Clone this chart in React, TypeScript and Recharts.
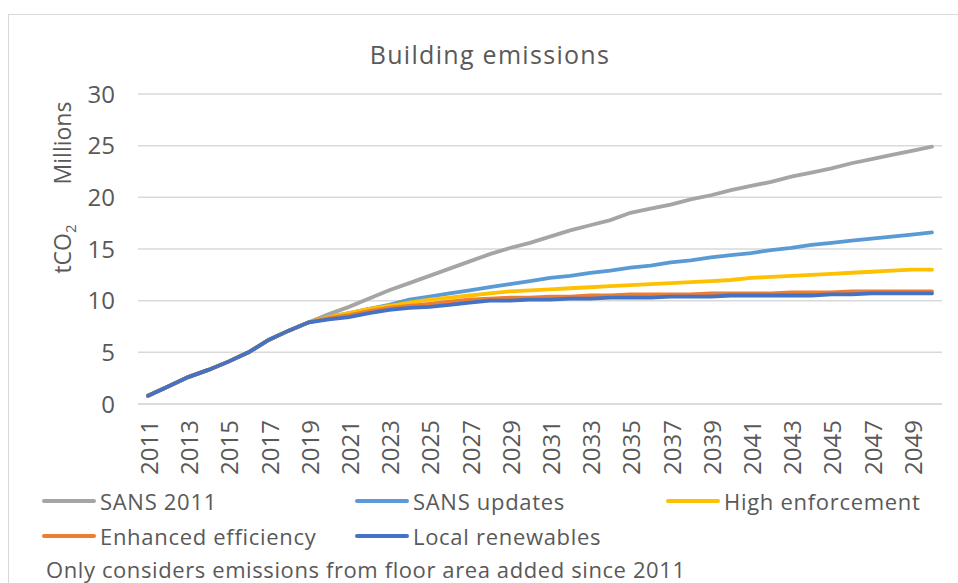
import { LineChart, Line, XAxis, YAxis, CartesianGrid } from 'recharts';

const YEARS = Array.from({ length: 40 }, (_, i) => String(2011 + i));

// 2011-2019 is the same for every scenario
const COMMON = [0.8, 1.7, 2.6, 3.3, 4.1, 5.0, 6.2, 7.1, 7.9];

const SANS_2011 = [
  ...COMMON,
  8.7, 9.4, 10.2, 11.0, 11.7, 12.4, 13.1, 13.8, 14.5, 15.1,
  15.6, 16.2, 16.8, 17.3, 17.8, 18.5, 18.9, 19.3, 19.8, 20.2,
  20.7, 21.1, 21.5, 22.0, 22.4, 22.8, 23.3, 23.7, 24.1, 24.5, 24.9,
];
const SANS_UPDATES = [
  ...COMMON,
  8.4, 8.8, 9.2, 9.6, 10.1, 10.4, 10.7, 11.0, 11.3, 11.6,
  11.9, 12.2, 12.4, 12.7, 12.9, 13.2, 13.4, 13.7, 13.9, 14.2,
  14.4, 14.6, 14.9, 15.1, 15.4, 15.6, 15.8, 16.0, 16.2, 16.4, 16.6,
];
const HIGH_ENFORCEMENT = [
  ...COMMON,
  8.4, 8.8, 9.2, 9.5, 9.8, 10.1, 10.3, 10.5, 10.7, 10.9,
  11.0, 11.1, 11.2, 11.3, 11.4, 11.5, 11.6, 11.7, 11.8, 11.9,
  12.0, 12.2, 12.3, 12.4, 12.5, 12.6, 12.7, 12.8, 12.9, 13.0, 13.0,
];
const ENHANCED_EFFICIENCY = [
  ...COMMON,
  8.3, 8.6, 9.0, 9.3, 9.5, 9.7, 9.9, 10.1, 10.2, 10.3,
  10.3, 10.4, 10.4, 10.5, 10.5, 10.6, 10.6, 10.6, 10.6, 10.7,
  10.7, 10.7, 10.7, 10.8, 10.8, 10.8, 10.9, 10.9, 10.9, 10.9, 10.9,
];
const LOCAL_RENEWABLES = [
  ...COMMON,
  8.2, 8.4, 8.8, 9.1, 9.3, 9.4, 9.6, 9.8, 10.0, 10.0,
  10.1, 10.1, 10.2, 10.2, 10.3, 10.3, 10.3, 10.4, 10.4, 10.4,
  10.5, 10.5, 10.5, 10.5, 10.5, 10.6, 10.6, 10.7, 10.7, 10.7, 10.7,
];

const Y_TICKS = [0, 5, 10, 15, 20, 25, 30];

const SERIES = [
  { key: 'sans2011', name: 'SANS 2011', color: '#A5A5A5', values: SANS_2011 },
  { key: 'sansUpdates', name: 'SANS updates', color: '#5B9BD5', values: SANS_UPDATES },
  { key: 'highEnforcement', name: 'High enforcement', color: '#FFC000', values: HIGH_ENFORCEMENT },
  { key: 'enhancedEfficiency', name: 'Enhanced efficiency', color: '#ED7D31', values: ENHANCED_EFFICIENCY },
  { key: 'localRenewables', name: 'Local renewables', color: '#4472C4', values: LOCAL_RENEWABLES },
];

const data = YEARS.map((year, i) => {
  const row: Record<string, string | number> = { year };
  SERIES.forEach((s) => {
    row[s.key] = s.values[i];
  });
  return row;
});

const FONT = '"Open Sans", "Noto Sans", sans-serif';
const TEXT = '#595959';

// legend placement (page px), row by row like Excel
const LEGEND_POS = [
  { left: 42, top: 501 },
  { left: 355, top: 501 },
  { left: 666, top: 501 },
  { left: 42, top: 536 },
  { left: 355, top: 536 },
];

function YearTick(props: any) {
  const { x, payload } = props;
  const bx = x + 10;
  return (
    <text
      x={bx}
      y={420}
      transform={`rotate(-90, ${bx}, 420)`}
      textAnchor="end"
      fill={TEXT}
      fontSize={24}
      fontFamily={FONT}
    >
      {payload.value}
    </text>
  );
}

export default function App() {
  return (
    <div
      style={{
        position: 'fixed',
        left: 0,
        top: 0,
        width: 958,
        height: 583,
        overflow: 'hidden',
        background: '#fff',
        fontFamily: FONT,
      }}
    >
      <div
        style={{
          position: 'absolute',
          left: 8,
          top: 14,
          width: 1000,
          height: 700,
          border: '1px solid #d9d9d9',
        }}
      />
      <div style={{ position: 'absolute', left: 0, top: 0 }}>
        <LineChart
          width={950}
          height={488}
          data={data}
          margin={{ top: 94, right: 8, left: 78, bottom: 0 }}
        >
          <CartesianGrid vertical={false} stroke="#d9d9d9" strokeWidth={1.5} />
          <XAxis
            dataKey="year"
            interval={1}
            height={84}
            padding={{ left: 10, right: 10 }}
            axisLine={{ stroke: '#d9d9d9', strokeWidth: 1.5 }}
            tickLine={false}
            tick={<YearTick />}
          />
          <YAxis
            width={60}
            domain={[0, 30]}
            ticks={Y_TICKS}
            axisLine={false}
            tickLine={false}
            tickSize={0}
            tickMargin={23}
            tick={{ fill: TEXT, fontSize: 24, fontFamily: FONT }}
          />
          {SERIES.map((s) => (
            <Line
              key={s.key}
              dataKey={s.key}
              name={s.name}
              type="linear"
              stroke={s.color}
              strokeWidth={3.8}
              strokeLinecap="round"
              dot={false}
              isAnimationActive={false}
            />
          ))}
        </LineChart>
      </div>
      <svg
        width={958}
        height={583}
        style={{ position: 'absolute', left: 0, top: 0, pointerEvents: 'none' }}
      >
        <text
          x={490}
          y={64}
          textAnchor="middle"
          fill={TEXT}
          fontSize={25}
          fontFamily={FONT}
          letterSpacing={1.3}
        >
          Building emissions
        </text>
        <text
          x={71}
          y={143}
          transform="rotate(-90, 71, 143)"
          textAnchor="middle"
          fill={TEXT}
          fontSize={23}
          fontFamily={FONT}
        >
          Millions
        </text>
        <text
          x={71}
          y={249}
          transform="rotate(-90, 71, 249)"
          textAnchor="middle"
          fill={TEXT}
          fontSize={23}
          fontFamily={FONT}
        >
          tCO
          <tspan fontSize={15} dy={5}>2</tspan>
        </text>
      </svg>
      {SERIES.map((s, i) => (
        <div
          key={s.key}
          style={{
            position: 'absolute',
            left: LEGEND_POS[i].left,
            top: LEGEND_POS[i].top - 15,
            height: 30,
            display: 'flex',
            alignItems: 'center',
            color: TEXT,
            fontSize: 22,
            letterSpacing: 0.7,
            whiteSpace: 'nowrap',
          }}
        >
          <span
            style={{
              display: 'inline-block',
              width: 54,
              height: 4,
              background: s.color,
              borderRadius: 2,
              marginRight: 4,
            }}
          />
          {s.name}
        </div>
      ))}
      <div
        style={{
          position: 'absolute',
          left: 46,
          top: 554,
          color: TEXT,
          fontSize: 22,
          letterSpacing: 0.6,
          whiteSpace: 'nowrap',
        }}
      >
        Only considers emissions from floor area added since 2011
      </div>
    </div>
  );
}
